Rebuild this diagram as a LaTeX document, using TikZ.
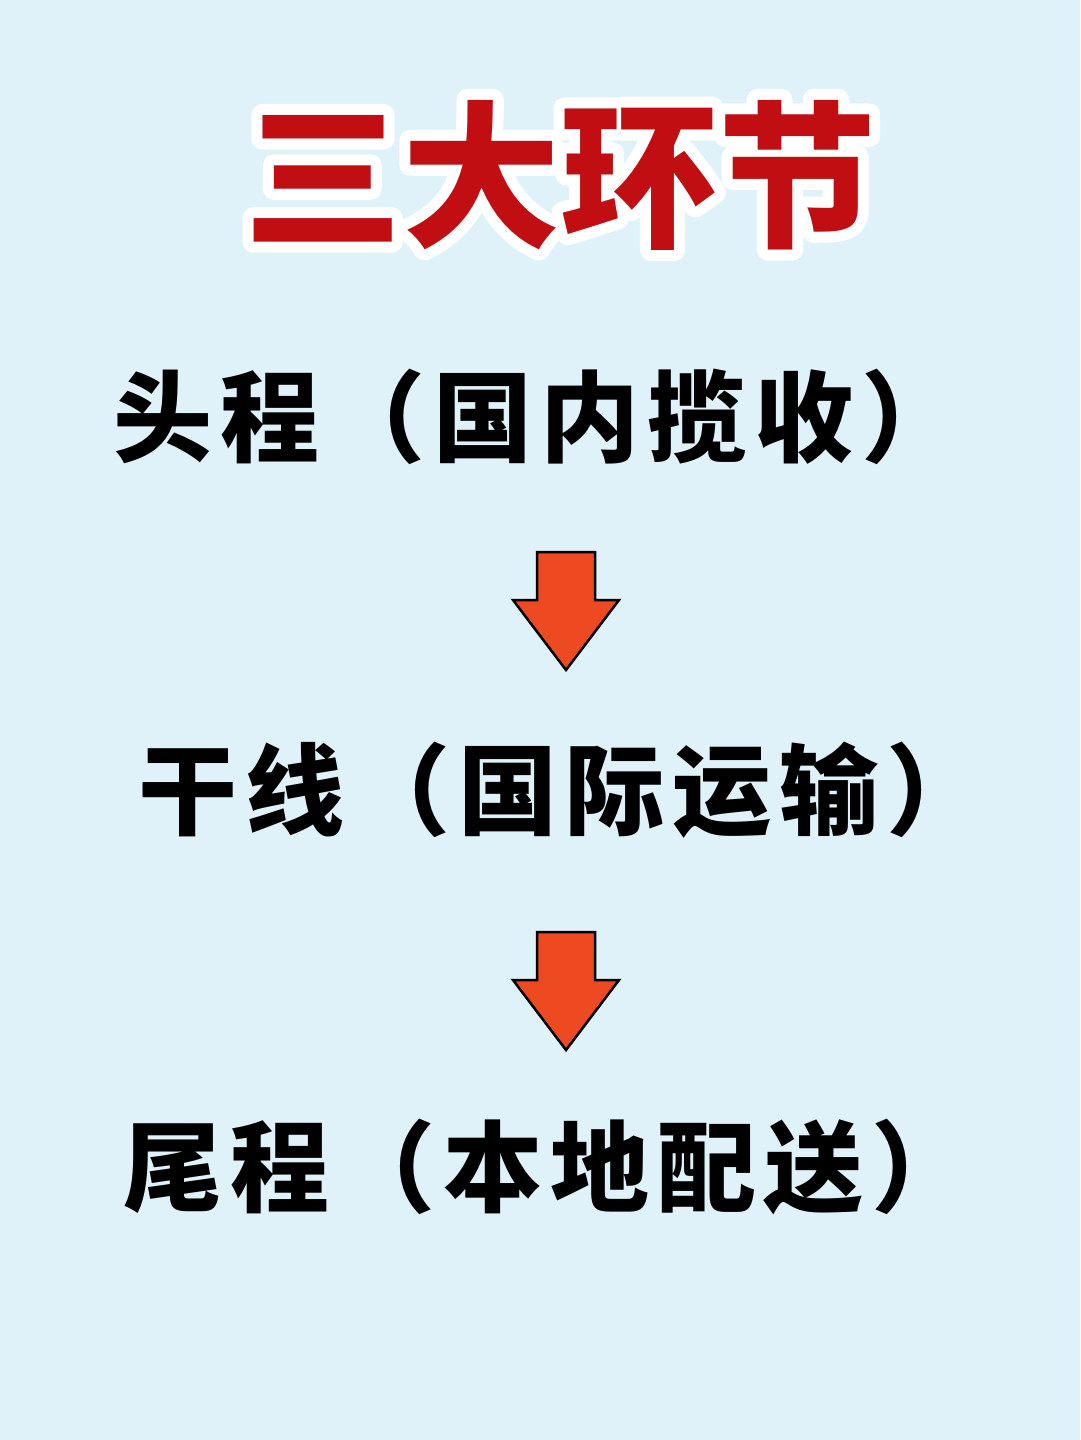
\documentclass[tikz,border=0pt]{standalone}
\usepackage{fontspec}
\newfontfamily\cjk{Noto Sans CJK SC}
\definecolor{bgblue}{HTML}{E0F2F9}
\definecolor{titlered}{HTML}{C00E12}
\definecolor{arrowred}{HTML}{EE4A22}
\newcommand{\strokedtext}[1]{\special{pdf:code q 2 Tr 22 w 1 J 1 j 1 1 1 RG 1 1 1 rg}#1\special{pdf:code 0 Tr Q}}
\tikzset{
  line/.style={font=\cjk\bfseries\fontsize{99}{99}\selectfont\addfontfeature{LetterSpace=8}, text=black, inner sep=0pt, anchor=west},
  ttl/.style={font=\cjk\bfseries\fontsize{158}{158}\selectfont, inner sep=0pt, anchor=center},
  downarrow/.style={fill=arrowred, draw=black, line width=2.5pt, line join=miter}
}
\begin{document}
\begin{tikzpicture}[x=1pt,y=-1pt]
\fill[bgblue] (0,0) rectangle (1080,1440);
\useasboundingbox (0,0) rectangle (1080,1440);
% title with white outline
\node[ttl, text=white] (titleoutline) at (560,175) {\strokedtext{三大环节}};
\node[ttl, text=titlered] (title) at (560,175) {三大环节};
% lines
\node[line] (l1) at (113,417) {头程（国内揽收）};
\node[line] (l2) at (138,790) {干线（国际运输）};
\node[line] (l3) at (123,1167) {尾程（本地配送）};
% arrows
\draw[downarrow] (537,552) -- (595,552) -- (595,600) -- (619,600) -- (566,670) -- (513,600) -- (537,600) -- cycle;
\draw[downarrow] (537,932) -- (595,932) -- (595,980) -- (619,980) -- (566,1050) -- (513,980) -- (537,980) -- cycle;
\end{tikzpicture}
\end{document}
